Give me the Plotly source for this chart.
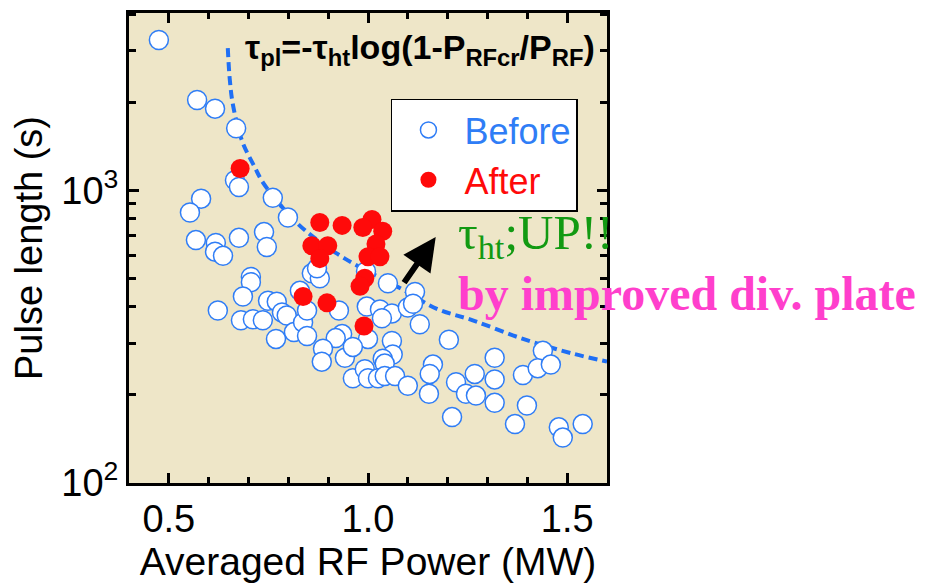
import plotly.graph_objects as go

# ---- data ----
before_power = [0.475, 0.571, 0.616, 0.669, 0.666, 0.676, 0.581, 0.553, 0.761, 0.799,
                0.568, 0.618, 0.616, 0.636, 0.676, 0.739, 0.746, 0.706, 0.706, 0.686,
                0.749, 0.771, 0.623, 0.681, 0.711, 0.736, 0.784, 0.796, 0.769, 0.814,
                0.837, 0.847, 0.859, 0.879, 0.872, 1.050, 1.118, 0.995, 0.997, 1.030,
                1.060, 1.100, 1.113, 1.035, 1.130, 0.927, 0.847, 0.829, 0.935, 0.919,
                1.000, 0.887, 0.884, 0.942, 0.962, 1.060, 1.062, 1.037, 1.042, 0.962,
                0.992, 1.000, 1.025, 1.042, 1.068, 1.100, 1.163, 1.155, 1.153, 1.203,
                1.221, 1.246, 1.271, 1.268, 1.211, 1.318, 1.318, 1.318, 1.389, 1.399,
                1.369, 1.439, 1.426, 1.459, 1.479, 1.489, 1.539]
before_pulse = [3270, 2040, 1905, 1633, 1084, 1028, 938, 841, 944, 809,
                677, 662, 618, 598, 689, 721, 641, 506, 486, 434,
                420, 417, 389, 360, 363, 360, 383, 374, 311, 328,
                354, 318, 521, 501, 542, 482, 450, 530, 401, 392,
                380, 398, 410, 366, 349, 389, 389, 454, 323, 313,
                311, 288, 260, 268, 292, 306, 275, 266, 256, 228,
                245, 228, 228, 232, 232, 215, 254, 236, 202, 309,
                221, 202, 199, 236, 168, 268, 226, 188, 234, 184,
                159, 283, 247, 254, 155, 143, 159]

after_power = [0.679, 0.879, 0.935, 1.010, 0.987, 1.037, 0.859, 0.899, 0.879,
               1.020, 1.000, 1.030, 0.992, 0.980, 0.837, 0.897, 0.990]
after_pulse = [1189, 778, 760, 796, 748, 726, 647, 647, 585,
               656, 594, 594, 501, 471, 434, 413, 344]

# dashed curve tau_pl = -tau_ht log(1 - P_RFcr/P_RF)
fit_power = [0.648, 0.653, 0.661, 0.684, 0.716, 0.736, 0.786, 0.842, 0.942,
             1.080, 1.173, 1.263, 1.389, 1.514, 1.600]
fit_pulse = [3070, 2399, 1963, 1476, 1199, 1067, 873, 731, 585,
             464, 394, 360, 311, 277, 260]

x_ticks = [0.5, 1.0, 1.5]
x_ticklabels = ["0.5", "1.0", "1.5"]
y_ticks = [100, 1000]
y_ticklabels = ["10<sup>2</sup>", "10<sup>3</sup>"]

BLUE = "#2F7DF6"
RED = "#FF0A0A"
BG = "#EEE6C8"

fig = go.Figure()
fig.add_trace(go.Scatter(x=fit_power, y=fit_pulse, mode="lines", line_shape="spline",
                         line=dict(color="#1F6FF5", width=4, dash="9px,5px"),
                         showlegend=False, hoverinfo="skip"))
fig.add_trace(go.Scatter(x=before_power, y=before_pulse, mode="markers",
                         name="<span style='color:#2F7DF6'>Before</span>",
                         marker=dict(symbol="circle", size=19, color="white",
                                     line=dict(color=BLUE, width=1.5))))
fig.add_trace(go.Scatter(x=after_power, y=after_pulse, mode="markers",
                         name="<span style='color:#FF0A0A'>After</span>",
                         marker=dict(symbol="circle", size=19, color=RED,
                                     line=dict(color=RED, width=0))))

axis_common = dict(showline=True, linecolor="black", linewidth=3, mirror="ticks",
                   ticks="inside", ticklen=10, tickwidth=3, tickcolor="black",
                   showgrid=False, zeroline=False,
                   tickfont=dict(family="Liberation Sans, Arial", size=38, color="black"))

fig.update_xaxes(range=[0.4, 1.6], tickvals=x_ticks, ticktext=x_ticklabels,
                 minor=dict(ticks="inside", ticklen=6, tickwidth=2.5, tickcolor="black",
                            dtick=0.1, tick0=0.4, showgrid=False),
                 title=dict(text="Averaged RF Power (MW)", standoff=10,
                            font=dict(family="Liberation Sans, Arial", size=39, color="black")),
                 **axis_common)
fig.update_yaxes(type="log", range=[2, 3.607], tickvals=y_ticks, ticktext=y_ticklabels,
                 minor=dict(ticks="inside", ticklen=7, tickwidth=2.5, tickcolor="black",
                            dtick="D1", showgrid=False),
                 title=dict(text="Pulse length (s)", standoff=8,
                            font=dict(family="Liberation Sans, Arial", size=38, color="black")),
                 **axis_common)

fig.add_annotation(xref="paper", yref="paper", x=0.2385, y=0.972, xanchor="left", yanchor="top",
                   showarrow=False,
                   text="<b>τ<sub>pl</sub>=-τ<sub>ht</sub>log(1-P<sub>RFcr</sub>/P<sub>RF</sub>)</b>",
                   font=dict(family="Liberation Sans, Arial", size=34, color="black"))
fig.add_annotation(xref="paper", yref="paper", x=0.684, y=0.527, xanchor="left", yanchor="middle",
                   showarrow=False, text="τ<sub>ht</sub>;UP!!",
                   font=dict(family="Liberation Serif, Times New Roman", size=49, color="#129A12"))
fig.add_annotation(xref="paper", yref="paper", x=0.684, y=0.403, xanchor="left", yanchor="middle",
                   showarrow=False, text="<b>by improved div. plate</b>",
                   font=dict(family="Liberation Serif, Times New Roman", size=48, color="#FF3FCC"))
# arrow (log axis annotations take log10 values)
fig.add_annotation(xref="x", yref="y", x=1.170, y=2.841, axref="x", ayref="y", ax=1.088, ay=2.680,
                   text="", showarrow=True, arrowhead=2, arrowsize=1.1, arrowwidth=6,
                   arrowcolor="black")

fig.update_layout(
    width=926, height=587,
    margin=dict(l=129, r=319, t=10, b=98),
    paper_bgcolor="white", plot_bgcolor=BG,
    legend=dict(x=0.548, y=0.818, xanchor="left", yanchor="top",
                bgcolor="white", bordercolor="black", borderwidth=1.5,
                font=dict(family="Liberation Sans, Arial", size=36),
                itemwidth=62, tracegroupgap=0),
    showlegend=True,
)

fig.write_html("out.html")
